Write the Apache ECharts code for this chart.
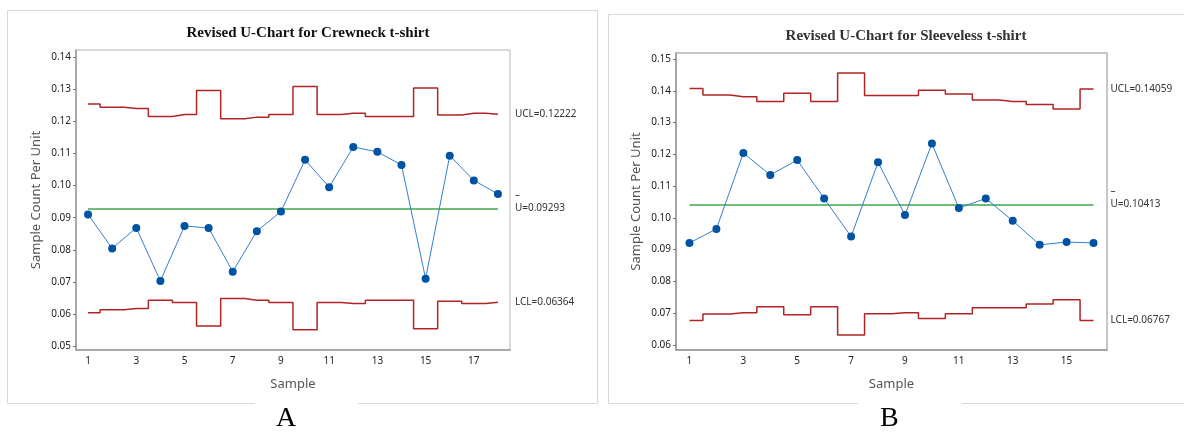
<!DOCTYPE html>
<html>
<head>
<meta charset="utf-8">
<script src="https://cdn.jsdelivr.net/npm/echarts@6/dist/echarts.min.js"></script>
<style>
  html, body { margin: 0; padding: 0; background: #fff; }
  #main { width: 1184px; height: 434px; }
</style>
</head>
<body>
<div id="main"></div>
<script>
var chartDom = document.getElementById("main");
var myChart = echarts.init(chartDom);

// chart A - crewneck
var samplesA = ['1','2','3','4','5','6','7','8','9','10','11','12','13','14','15','16','17','18'];
var uA   = [0.0910,0.0804,0.0868,0.0703,0.0874,0.0868,0.0732,0.0858,0.0919,0.1080,0.0995,0.1120,0.1105,0.1064,0.0710,0.1093,0.1016,0.0974];
var uclA = [0.1254,0.1244,0.1240,0.1215,0.1221,0.1296,0.1208,0.1213,0.1221,0.1308,0.1221,0.1225,0.1215,0.1215,0.1304,0.1220,0.1225,0.1222];
var lclA = [0.0604,0.0613,0.0617,0.0643,0.0636,0.0563,0.0648,0.0643,0.0636,0.0551,0.0636,0.0633,0.0643,0.0643,0.0554,0.0640,0.0633,0.0637];
var clA = 0.09293;
var yTicksA = [0.05,0.06,0.07,0.08,0.09,0.10,0.11,0.12,0.13,0.14];

// chart B - sleeveless
var samplesB = ['1','2','3','4','5','6','7','8','9','10','11','12','13','14','15','16'];
var uB   = [0.0921,0.0965,0.1204,0.1135,0.1182,0.1061,0.0941,0.1175,0.1009,0.1234,0.1031,0.1061,0.0991,0.0915,0.0924,0.0921];
var uclB = [0.1407,0.1387,0.1381,0.1366,0.1392,0.1366,0.1456,0.1385,0.1385,0.1402,0.1390,0.1371,0.1366,0.1357,0.1343,0.1406];
var lclB = [0.0677,0.0697,0.0701,0.0720,0.0695,0.0720,0.0631,0.0698,0.0701,0.0683,0.0698,0.0717,0.0717,0.0729,0.0742,0.0677];
var clB = 0.10413;
var yTicksB = [0.06,0.07,0.08,0.09,0.10,0.11,0.12,0.13,0.14,0.15];

var labelsA = { ucl: 'UCL=0.12222', cl: 'U=0.09293', lcl: 'LCL=0.06364' };
var labelsB = { ucl: 'UCL=0.14059', cl: 'U=0.10413', lcl: 'LCL=0.06767' };

var sans = "'Segoe UI', 'Noto Sans', 'Open Sans', sans-serif";
var serif = "'Liberation Serif', 'DejaVu Serif', serif";
var red = '#b02424';
var green = '#6fbb78';

function xAxisFor(idx, cats) {
    return {
        type: 'category',
        gridIndex: idx,
        data: cats,
        boundaryGap: true,
        name: 'Sample',
        nameLocation: 'middle',
        nameGap: 28,
        nameTextStyle: { fontFamily: sans, fontSize: 13, color: '#555' },
        axisLine: { lineStyle: { color: '#9a9a9a', width: 1.5 } },
        axisTick: { alignWithLabel: true, interval: 1, length: 3, lineStyle: { color: '#777' } },
        axisLabel: { interval: 1, fontFamily: sans, fontSize: 10, color: '#222', margin: 6 },
        splitLine: { show: false }
    };
}

function yAxisFor(idx, min, max, ticks) {
    return {
        type: 'value',
        gridIndex: idx,
        min: min,
        max: max,
        name: 'Sample Count Per Unit',
        nameLocation: 'middle',
        nameGap: 33,
        nameTextStyle: { fontFamily: sans, fontSize: 13, color: '#555' },
        axisLine: { show: true, lineStyle: { color: '#9a9a9a', width: 1.5 } },
        axisTick: { show: true, customValues: ticks, length: 3, lineStyle: { color: '#777' } },
        axisLabel: {
            customValues: ticks, fontFamily: sans, fontSize: 10, color: '#222', margin: 5,
            formatter: function (v) { return v.toFixed(2); }
        },
        splitLine: { show: false }
    };
}

function endLab(text) {
    return {
        show: true,
        distance: 17,
        formatter: text,
        fontFamily: sans,
        fontSize: 10,
        color: '#333'
    };
}

function seriesFor(idx, u, ucl, lcl, cl, cats, labs) {
    return [
        {
            type: 'line', xAxisIndex: idx, yAxisIndex: idx,
            step: 'middle', data: ucl, symbol: 'none', silent: true,
            lineStyle: { color: red, width: 1.5 },
            endLabel: endLab(labs.ucl)
        },
        {
            type: 'line', xAxisIndex: idx, yAxisIndex: idx,
            step: 'middle', data: lcl, symbol: 'none', silent: true,
            lineStyle: { color: red, width: 1.5 },
            endLabel: endLab(labs.lcl)
        },
        {
            type: 'line', xAxisIndex: idx, yAxisIndex: idx,
            data: u, symbol: 'circle', symbolSize: 8, z: 5,
            itemStyle: { color: '#0052a3' },
            lineStyle: { color: '#3380cc', width: 1 },
            markLine: {
                silent: true,
                symbol: 'none',
                lineStyle: { color: green, width: 2, type: 'solid' },
                label: {
                    position: 'end',
                    distance: 17,
                    offset: [0, -7],
                    formatter: '{d|\u2013}\n{t|' + labs.cl + '}',
                    rich: {
                        d: { fontFamily: sans, fontSize: 10, color: '#333', lineHeight: 13 },
                        t: { fontFamily: sans, fontSize: 10, color: '#333', lineHeight: 13 }
                    }
                },
                data: [[
                    { coord: [cats[0], cl] },
                    { coord: [cats[cats.length - 1], cl] }
                ]]
            }
        }
    ];
}

var option = {
    backgroundColor: '#fff',
    animation: false,
    title: [
        {
            text: 'Revised U-Chart for Crewneck t-shirt',
            left: 303, top: 21, textAlign: 'center',
            textStyle: { fontFamily: serif, fontWeight: 'bold', fontSize: 15, color: '#111' }
        },
        {
            text: 'Revised U-Chart for Sleeveless t-shirt',
            left: 901, top: 24, textAlign: 'center',
            textStyle: { fontFamily: serif, fontWeight: 'bold', fontSize: 15, color: '#333' }
        }
    ],
    grid: [
        { left: 76, top: 50, width: 434, height: 300, show: true, borderColor: '#b5b5b5', borderWidth: 1 },
        { left: 676, top: 53, width: 431, height: 297, show: true, borderColor: '#b5b5b5', borderWidth: 1.5 }
    ],
    xAxis: [xAxisFor(0, samplesA), xAxisFor(1, samplesB)],
    yAxis: [yAxisFor(0, 0.0488, 0.1422, yTicksA), yAxisFor(1, 0.0584, 0.1519, yTicksB)],
    series: seriesFor(0, uA, uclA, lclA, clA, samplesA, labelsA)
        .concat(seriesFor(1, uB, uclB, lclB, clB, samplesB, labelsB)),
    graphic: [
        // panel frames with the gap for the panel letter
        { type: 'polyline', silent: true, shape: { points: [[255, 403.5], [7.5, 403.5], [7.5, 10.5], [597.5, 10.5], [597.5, 403.5], [358, 403.5]] },
          style: { fill: null, stroke: '#d9d9d9', lineWidth: 1 } },
        { type: 'polyline', silent: true, shape: { points: [[858, 403.5], [608.5, 403.5], [608.5, 14.5], [1184, 14.5]] },
          style: { fill: null, stroke: '#d9d9d9', lineWidth: 1 } },
        { type: 'line', silent: true, shape: { x1: 962, y1: 403.5, x2: 1184, y2: 403.5 },
          style: { stroke: '#d9d9d9', lineWidth: 1 } },
        { type: 'text', left: 276, top: 405, silent: true,
          style: { text: 'A', font: '28px ' + serif, fill: '#000' } },
        { type: 'text', left: 880, top: 405, silent: true,
          style: { text: 'B', font: '28px ' + serif, fill: '#000' } }
    ]
};

myChart.setOption(option);
</script>
</body>
</html>
